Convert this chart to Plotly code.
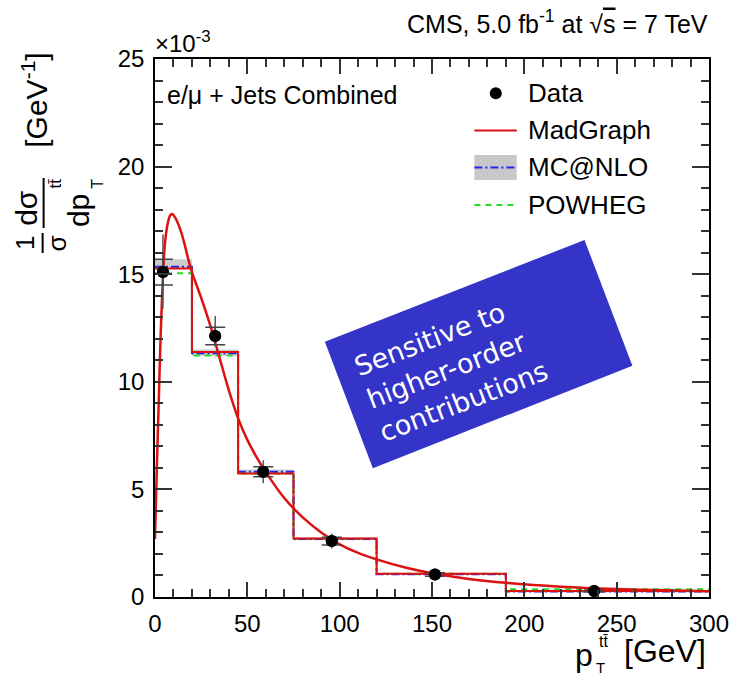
import plotly.graph_objects as go

# ---------------- data (y in units of 1e-3 GeV^-1) ----------------
bin_edges = [0, 20, 45, 75, 120, 190, 300]
madgraph_hist = [15.27, 11.38, 5.74, 2.72, 1.08, 0.28]
mcnlo_hist = [15.35, 11.33, 5.82, 2.70, 1.06, 0.25]
mcnlo_band_lo = [15.25, 11.20, 5.70, 2.64, 1.02, 0.22]
mcnlo_band_hi = [15.70, 11.50, 5.92, 2.78, 1.10, 0.30]
powheg_hist = [15.04, 11.22, 5.74, 2.70, 1.08, 0.36]

curve_x = [0, 1, 2, 3, 4, 5, 6, 7, 8, 9, 10, 12, 14, 16, 18, 20, 25, 30, 35, 40, 45,
           50, 55, 60, 70, 80, 90, 100, 110, 120, 135, 150, 170, 190, 220, 250, 275, 300]
curve_y = [2.7, 6.0, 9.0, 12.0, 14.3, 16.0, 16.9, 17.4, 17.7, 17.8, 17.75, 17.45, 17.0, 16.4,
           15.7, 15.1, 13.9, 12.6, 11.1, 9.6, 8.3, 7.3, 6.5, 5.8, 4.6, 3.7, 3.0, 2.45, 2.05,
           1.75, 1.38, 1.1, 0.84, 0.66, 0.48, 0.37, 0.31, 0.27]

data_x = [4.3, 32.6, 58.6, 95.7, 151.6, 237.8]
data_y = [15.1, 12.13, 5.82, 2.6, 1.05, 0.28]
err_tot_up = [1.75, 0.93, 0.54, 0.35, 0.12, 0.06]
err_tot_dn = [1.70, 0.50, 0.54, 0.35, 0.12, 0.06]
err_stat = [0.60, 0.41, 0.23, 0.18, 0.08, 0.04]

# ---------------- geometry helpers ----------------
W, H = 741, 677
L, R, T, B = 155, 717, 59, 597


def P(X, Y):
    return (X - L) / (R - L), (B - Y) / (B - T)


FONT = "Liberation Sans, Arial, sans-serif"

fig = go.Figure()

step_x = bin_edges
def step_y(v):
    return list(v) + [v[-1]]

# MC@NLO uncertainty band
fig.add_trace(go.Scatter(x=step_x, y=step_y(mcnlo_band_lo), mode="lines",
                         line=dict(width=0, shape="hv"), showlegend=False, hoverinfo="skip"))
fig.add_trace(go.Scatter(x=step_x, y=step_y(mcnlo_band_hi), mode="lines",
                         line=dict(width=0, shape="hv"), fill="tonexty",
                         fillcolor="rgba(190,190,190,0.8)", showlegend=False, hoverinfo="skip"))
# POWHEG
fig.add_trace(go.Scatter(x=step_x, y=step_y(powheg_hist), mode="lines",
                         line=dict(color="#22dd22", width=2, dash="6px,5px", shape="hv"),
                         showlegend=False))
# MC@NLO
fig.add_trace(go.Scatter(x=step_x, y=step_y(mcnlo_hist), mode="lines",
                         line=dict(color="#2222ee", width=2, dash="8px,3px,2px,3px", shape="hv"),
                         showlegend=False))
# MadGraph histogram
fig.add_trace(go.Scatter(x=step_x, y=step_y(madgraph_hist), mode="lines",
                         line=dict(color="#dd1111", width=2, shape="hv"), showlegend=False))
# MadGraph smooth curve
fig.add_trace(go.Scatter(x=curve_x, y=curve_y, mode="lines",
                         line=dict(color="#dd1111", width=2.5, shape="spline", smoothing=0.8),
                         showlegend=False))
# Data: total error (no caps)
fig.add_trace(go.Scatter(x=data_x, y=data_y, mode="markers",
                         marker=dict(size=12, color="black"),
                         error_y=dict(type="data", array=err_tot_up, arrayminus=err_tot_dn,
                                      color="#555555", thickness=1.5, width=0),
                         showlegend=False))
# Data: stat error with caps
fig.add_trace(go.Scatter(x=data_x, y=data_y, mode="markers",
                         marker=dict(size=12, color="black"),
                         error_y=dict(type="data", array=err_stat, color="#444444",
                                      thickness=1.5, width=10),
                         showlegend=False))

shapes = []
ann = []

# blue box
corners = [(327.3, 341.7), (590.7, 240), (639.3, 365.7), (376, 468.3)]
pc = [P(*c) for c in corners]
path = "M {} {} L {} {} L {} {} L {} {} Z".format(*[v for c in pc for v in c])
shapes.append(dict(type="path", xref="paper", yref="paper", path=path,
                   fillcolor="#3434c8", line=dict(width=0), layer="above"))
bx, by = P(455, 368)
ann.append(dict(xref="paper", yref="paper", x=bx, y=by, xanchor="center", yanchor="middle",
                text="Sensitive to<br>higher-order<br>contributions", showarrow=False,
                textangle=-21, align="left",
                font=dict(family="DejaVu Sans, Verdana, sans-serif", size=27, color="white")))

# legend
lx0, lx1 = 479, 522
mx, my = P(500.7, 93.3)
fig.add_trace(go.Scatter(x=[mx], y=[my], xaxis="x2", yaxis="y2", mode="markers",
                         marker=dict(size=12, color="black"), showlegend=False, hoverinfo="skip"))
a, yy = P(lx0, 130.5)
b, _ = P(lx1, 130.5)
shapes.append(dict(type="line", xref="paper", yref="paper", x0=a, x1=b, y0=yy, y1=yy,
                   line=dict(color="#dd1111", width=2)))
a0, yb0 = P(lx0, 180)
a1, yb1 = P(lx1, 155)
shapes.append(dict(type="rect", xref="paper", yref="paper", x0=a0, x1=a1, y0=yb0, y1=yb1,
                   fillcolor="rgba(200,200,200,1)", line=dict(width=0)))
_, ym = P(lx0, 167.5)
shapes.append(dict(type="line", xref="paper", yref="paper", x0=a0, x1=a1, y0=ym, y1=ym,
                   line=dict(color="#2222ee", width=2, dash="8px,3px,2px,3px")))
_, yp = P(lx0, 205)
shapes.append(dict(type="line", xref="paper", yref="paper", x0=a0, x1=a1, y0=yp, y1=yp,
                   line=dict(color="#22dd22", width=2, dash="6px,5px")))

for label, Y in [("Data", 93), ("MadGraph", 130), ("MC@NLO", 167), ("POWHEG", 205)]:
    x, y = P(531, Y)
    ann.append(dict(xref="paper", yref="paper", x=x, y=y, xanchor="left", yanchor="middle",
                    text=label, showarrow=False, font=dict(family=FONT, size=26, color="black")))

x, y = P(165, 95)
ann.append(dict(xref="paper", yref="paper", x=x, y=y, xanchor="left", yanchor="middle",
                text="e/μ + Jets Combined", showarrow=False,
                font=dict(family=FONT, size=25, color="black")))

# title
x, y = P(718, 22)
ann.append(dict(xref="paper", yref="paper", x=x, y=y, xanchor="right", yanchor="middle",
                text="CMS, 5.0 fb<sup>-1</sup> at √<span style='text-decoration:overline'>s</span> = 7 TeV",
                showarrow=False, font=dict(family=FONT, size=25, color="black")))
x, y = P(153, 42)
ann.append(dict(xref="paper", yref="paper", x=x, y=y, xanchor="left", yanchor="middle",
                text="×10<sup>-3</sup>", showarrow=False,
                font=dict(family=FONT, size=24, color="black")))

# y axis title pieces (rotated)
def rot(text, X, Y, size):
    x, y = P(X, Y)
    ann.append(dict(xref="paper", yref="paper", x=x, y=y, xanchor="center", yanchor="middle",
                    text=text, showarrow=False, textangle=-90,
                    font=dict(family=FONT, size=size, color="black")))

rot("1", 23, 243, 26)
rot("σ", 56, 243, 26)
rot("dσ", 25, 208, 30)
rot("dp", 77, 211, 30)
rot("tt̄", 54, 183, 17)
rot("T", 96, 184, 16)
rot("[GeV<sup>-1</sup>]", 33, 100, 30)
for (X, Y0, Y1) in [(41, 233, 253), (42, 178, 228)]:
    x, y0 = P(X, Y0)
    _, y1 = P(X, Y1)
    shapes.append(dict(type="line", xref="paper", yref="paper", x0=x, x1=x, y0=y0, y1=y1,
                       line=dict(color="black", width=2)))

def txt(text, X, Y, size, anchor="center"):
    x, y = P(X, Y)
    ann.append(dict(xref="paper", yref="paper", x=x, y=y, xanchor=anchor, yanchor="middle",
                    text=text, showarrow=False, font=dict(family=FONT, size=size, color="black")))

txt("p", 590, 655, 32)
txt("tt̄", 610, 641, 16)
txt("T", 607, 667, 15)
txt("[GeV]", 672, 651, 32)

axis_common = dict(showline=True, linecolor="black", linewidth=1.5, mirror="allticks",
                   ticks="inside", tickcolor="#333333", tickwidth=1.5, showgrid=False,
                   zeroline=False, tickfont=dict(family=FONT, size=24, color="black"))

fig.update_layout(
    width=W, height=H,
    margin=dict(l=L, r=W - R, t=T, b=H - B),
    paper_bgcolor="white", plot_bgcolor="white",
    xaxis=dict(range=[0, 300], dtick=50, tick0=0, ticklen=15, ticklabelstandoff=4,
               minor=dict(ticks="inside", ticklen=8, dtick=10, tickcolor="#333333", tickwidth=1.5),
               **axis_common),
    yaxis=dict(range=[0, 25], dtick=5, tick0=0, ticklen=17, ticklabelstandoff=4,
               minor=dict(ticks="inside", ticklen=8, dtick=1, tickcolor="#333333", tickwidth=1.5),
               **axis_common),
    xaxis2=dict(range=[0, 1], domain=[0, 1], overlaying="x", visible=False, fixedrange=True),
    yaxis2=dict(range=[0, 1], domain=[0, 1], overlaying="y", visible=False, fixedrange=True),
    shapes=shapes, annotations=ann, showlegend=False,
)

fig.write_html("out.html")
